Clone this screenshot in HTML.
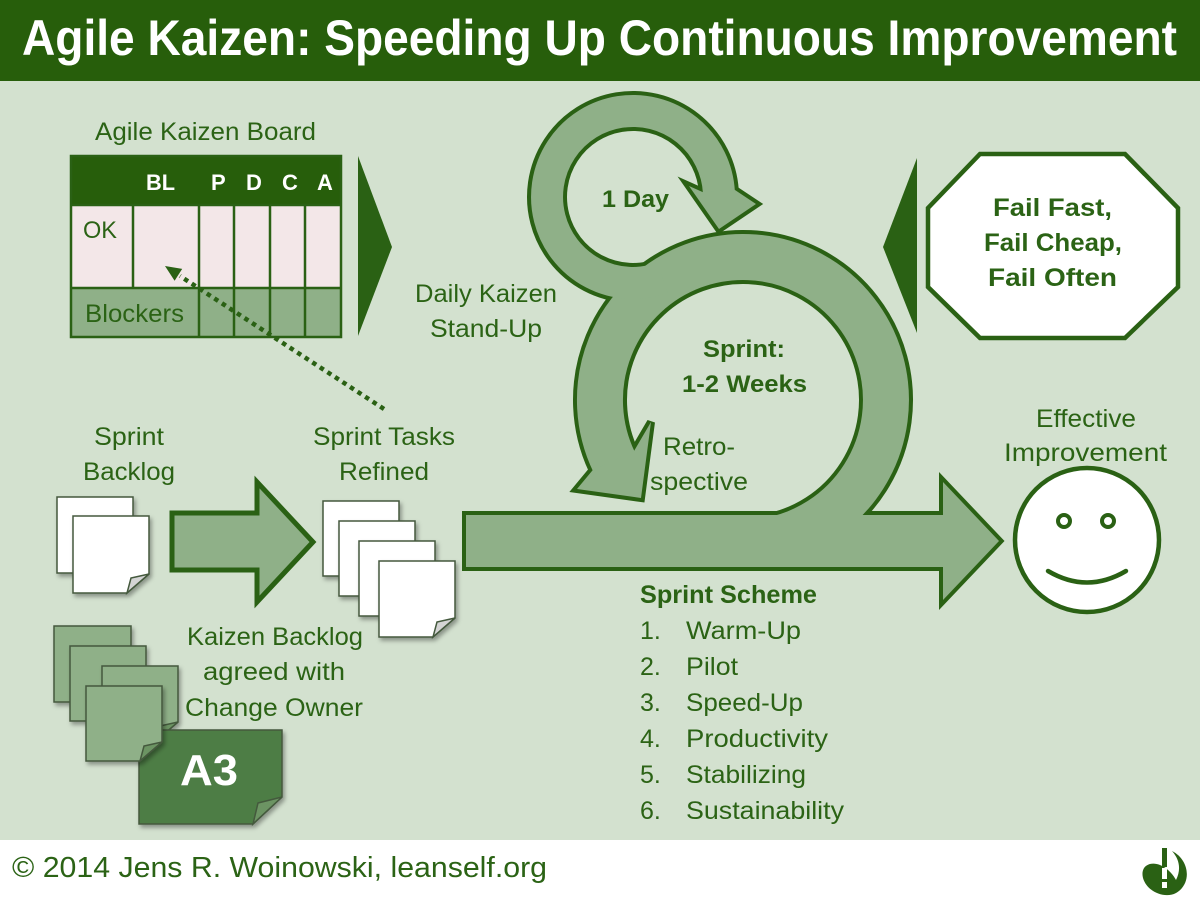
<!DOCTYPE html>
<html><head><meta charset="utf-8"><style>
html,body{margin:0;padding:0;width:1200px;height:900px;overflow:hidden;background:#D3E1CF;}
svg{display:block}
text{font-family:"Liberation Sans",sans-serif;}
</style></head><body>
<svg width="1200" height="900" viewBox="0 0 1200 900" xmlns="http://www.w3.org/2000/svg">
<defs>
<filter id="sh" x="-20%" y="-20%" width="150%" height="150%"><feDropShadow dx="2" dy="3" stdDeviation="2" flood-color="#000" flood-opacity="0.35"/></filter>
</defs>
<rect width="1200" height="900" fill="#D3E1CF"/>
<rect width="1200" height="81" fill="#275E0B"/>
<rect y="840" width="1200" height="60" fill="#fff"/>
<text x="22" y="55" font-size="50" font-weight="bold" fill="#fff" textLength="1155" lengthAdjust="spacingAndGlyphs">Agile Kaizen: Speeding Up Continuous Improvement</text>

<!-- Board -->
<g fill="#2B6315">
<text x="95" y="140" font-size="25" textLength="221" lengthAdjust="spacingAndGlyphs">Agile Kaizen Board</text>
</g>
<rect x="71" y="156" width="270" height="49" fill="#275E0B"/>
<rect x="71" y="205" width="270" height="83" fill="#F3E7E8"/>
<rect x="71" y="288" width="270" height="49" fill="#8FB088"/>
<g stroke="#2A6114" stroke-width="2.5" fill="none">
<rect x="71" y="156" width="270" height="181"/>
<line x1="71" y1="205" x2="341" y2="205"/>
<line x1="71" y1="288" x2="341" y2="288"/>
<line x1="133" y1="205" x2="133" y2="288"/>
<line x1="199" y1="205" x2="199" y2="337"/>
<line x1="234" y1="205" x2="234" y2="337"/>
<line x1="270" y1="205" x2="270" y2="337"/>
<line x1="305" y1="205" x2="305" y2="337"/>
</g>
<g fill="#fff" font-weight="bold" font-size="22">
<text x="146" y="190" textLength="29" lengthAdjust="spacingAndGlyphs">BL</text>
<text x="211" y="190">P</text>
<text x="246" y="190">D</text>
<text x="282" y="190">C</text>
<text x="317" y="190">A</text>
</g>
<g fill="#2B6315" font-size="25">
<text x="83" y="238" font-size="24" textLength="34" lengthAdjust="spacingAndGlyphs">OK</text>
<text x="85" y="322" textLength="99" lengthAdjust="spacingAndGlyphs">Blockers</text>
</g>

<!-- triangles -->
<polygon points="358,156 392,247 358,336" fill="#2A6114"/>
<polygon points="917,158 883,247 917,333" fill="#2A6114"/>

<!-- dotted arrow -->
<line x1="384" y1="409" x2="180" y2="276" stroke="#2A6114" stroke-width="4.5" stroke-dasharray="4.5,4.5"/>
<polygon points="165,266 182.2,268.9 174.6,280.7" fill="#2A6114"/>

<!-- Ring + shaft: pass 1 (outline) -->
<g fill="none" stroke="#2A6114">
<path d="M767.8,540.8 A143,143 0 1 0 613.4,460.4" stroke-width="54"/>
<path d="M662.4,277.8 A86,86 0 1 1 718.8,191.0" stroke-width="40"/>
</g>
<g fill="#2A6114" stroke="#2A6114" stroke-width="8" stroke-linejoin="miter">
<polygon points="634.2,450.7 651,422 641,498 577,489 592.6,470.2"/>
<polygon points="702.8,192.1 689,186 719,229 756,204 734.8,189.9"/>
<polygon points="466,515 943,515 943,482 999,541 943,600 943,567 466,567"/>
</g>
<!-- pass 2 (fill) -->
<g fill="none" stroke="#8FB088">
<path d="M767.8,540.8 A143,143 0 1 0 614.1,462.0" stroke-width="46"/>
<path d="M662.4,277.8 A86,86 0 1 1 718.9,192.05" stroke-width="32"/>
</g>
<g fill="#8FB088">
<polygon points="634.2,450.7 651,422 641,498 577,489 592.6,470.2"/>
<polygon points="702.8,192.1 689,186 719,229 756,204 734.8,189.9"/>
<polygon points="466,515 943,515 943,482 999,541 943,600 943,567 466,567"/>
</g>

<!-- left arrow -->
<polygon points="172,513 257,513 257,482 313,542 257,602 257,570 172,570" fill="#8FB088" stroke="#2A6114" stroke-width="5" stroke-linejoin="miter"/>

<!-- ring texts -->
<g fill="#2B6315" font-size="25">
<text x="415" y="302" textLength="142" lengthAdjust="spacingAndGlyphs">Daily Kaizen</text>
<text x="430" y="337" textLength="112" lengthAdjust="spacingAndGlyphs">Stand-Up</text>
<text x="602" y="207" font-size="24" font-weight="bold" textLength="67" lengthAdjust="spacingAndGlyphs">1 Day</text>
<text x="703" y="357" font-size="24" font-weight="bold" textLength="82" lengthAdjust="spacingAndGlyphs">Sprint:</text>
<text x="682" y="392" font-size="24" font-weight="bold" textLength="125" lengthAdjust="spacingAndGlyphs">1-2 Weeks</text>
<text x="663" y="455" textLength="72" lengthAdjust="spacingAndGlyphs">Retro-</text>
<text x="650" y="490" textLength="98" lengthAdjust="spacingAndGlyphs">spective</text>
</g>

<!-- Sprint scheme -->
<g fill="#2B6315" font-size="25">
<text x="640" y="603" font-weight="bold" textLength="177" lengthAdjust="spacingAndGlyphs">Sprint Scheme</text>
<text x="640" y="639">1.</text>
<text x="640" y="675">2.</text>
<text x="640" y="711">3.</text>
<text x="640" y="747">4.</text>
<text x="640" y="783">5.</text>
<text x="640" y="819">6.</text>
<text x="686" y="639" textLength="115" lengthAdjust="spacingAndGlyphs">Warm-Up</text>
<text x="686" y="675" textLength="52" lengthAdjust="spacingAndGlyphs">Pilot</text>
<text x="686" y="711" textLength="117" lengthAdjust="spacingAndGlyphs">Speed-Up</text>
<text x="686" y="747" textLength="142" lengthAdjust="spacingAndGlyphs">Productivity</text>
<text x="686" y="783" textLength="120" lengthAdjust="spacingAndGlyphs">Stabilizing</text>
<text x="686" y="819" textLength="158" lengthAdjust="spacingAndGlyphs">Sustainability</text>
</g>

<!-- Octagon -->
<polygon points="980,154 1125,154 1178,208 1178,287 1125,338 980,338 928,287 928,208" fill="#fff" stroke="#2A6114" stroke-width="4.5"/>
<g fill="#2B6315" font-size="25" font-weight="bold" style="font-family:'DejaVu Sans',sans-serif">
<text x="993" y="216" textLength="119" lengthAdjust="spacingAndGlyphs">Fail Fast,</text>
<text x="984" y="251" textLength="138" lengthAdjust="spacingAndGlyphs">Fail Cheap,</text>
<text x="988" y="286" textLength="129" lengthAdjust="spacingAndGlyphs">Fail Often</text>
</g>

<!-- Smiley -->
<g fill="#2B6315" font-size="25">
<text x="1036" y="427" textLength="100" lengthAdjust="spacingAndGlyphs">Effective</text>
<text x="1004" y="461" textLength="163" lengthAdjust="spacingAndGlyphs">Improvement</text>
</g>
<circle cx="1087" cy="540" r="72" fill="#fff" stroke="#2A6114" stroke-width="4.5"/>
<circle cx="1064" cy="521" r="6" fill="#fff" stroke="#2A6114" stroke-width="4"/>
<circle cx="1108" cy="521" r="6" fill="#fff" stroke="#2A6114" stroke-width="4"/>
<path d="M1048,571 Q1087,594 1126,571" fill="none" stroke="#2A6114" stroke-width="4.5" stroke-linecap="round"/>

<!-- Sticky notes -->
<g stroke="#44593D" stroke-width="1.5">
<rect x="57" y="497" width="76" height="76" fill="#fff" filter="url(#sh)"/>
<polygon points="73,516 149,516 149,574 127,593 73,593" fill="#fff" filter="url(#sh)"/>
<polygon points="149,574 127,593 131,578" fill="#D4D4D4"/>

<rect x="323" y="501" width="76" height="75" fill="#fff" filter="url(#sh)"/>
<rect x="339" y="521" width="76" height="75" fill="#fff" filter="url(#sh)"/>
<rect x="359" y="541" width="76" height="75" fill="#fff" filter="url(#sh)"/>
<polygon points="379,561 455,561 455,618 433,637 379,637" fill="#fff" filter="url(#sh)"/>
<polygon points="455,618 433,637 437,622" fill="#D4D4D4"/>

<rect x="54" y="626" width="77" height="76" fill="#8FB088" filter="url(#sh)"/>
<rect x="70" y="646" width="76" height="75" fill="#8FB088" filter="url(#sh)"/>
<polygon points="102,666 178,666 178,722 156,741 102,741" fill="#8FB088" filter="url(#sh)"/>
<polygon points="178,722 156,741 160,726" fill="#6C9463"/>
<polygon points="139,730 282,730 282,797 253,824 139,824" fill="#4E7D45" filter="url(#sh)"/>
<polygon points="282,797 253,824 258,803" fill="#6C9463"/>
<polygon points="86,686 162,686 162,742 140,761 86,761" fill="#8FB088" filter="url(#sh)"/>
<polygon points="162,742 140,761 144,746" fill="#6C9463"/>
</g>
<text x="180" y="785" font-size="44" font-weight="bold" fill="#fff" textLength="58" lengthAdjust="spacingAndGlyphs">A3</text>

<g fill="#2B6315" font-size="25">
<text x="94" y="445" textLength="70" lengthAdjust="spacingAndGlyphs">Sprint</text>
<text x="83" y="480" textLength="92" lengthAdjust="spacingAndGlyphs">Backlog</text>
<text x="313" y="445" textLength="142" lengthAdjust="spacingAndGlyphs">Sprint Tasks</text>
<text x="339" y="480" textLength="90" lengthAdjust="spacingAndGlyphs">Refined</text>
<text x="187" y="645" textLength="176" lengthAdjust="spacingAndGlyphs">Kaizen Backlog</text>
<text x="203" y="680" textLength="142" lengthAdjust="spacingAndGlyphs">agreed with</text>
<text x="185" y="716" textLength="178" lengthAdjust="spacingAndGlyphs">Change Owner</text>
</g>

<!-- Footer -->
<text x="12" y="877" font-size="29" fill="#2B6315" textLength="535" lengthAdjust="spacingAndGlyphs">© 2014 Jens R. Woinowski, leanself.org</text>
<g fill="#2A6114">
<path d="M1172,851 C1190,860 1192,884 1176,893 C1165,899 1147,892 1143,878 C1140,866 1150,861 1160,865 C1168,868 1174,876 1176,880 C1181,870 1180,860 1172,851 Z"/>
<rect x="1162" y="848" width="5" height="19"/>
</g>
<rect x="1162" y="868" width="5" height="11" fill="#fff"/>
<rect x="1162" y="882" width="5" height="6" fill="#fff"/>
</svg>
</body></html>
